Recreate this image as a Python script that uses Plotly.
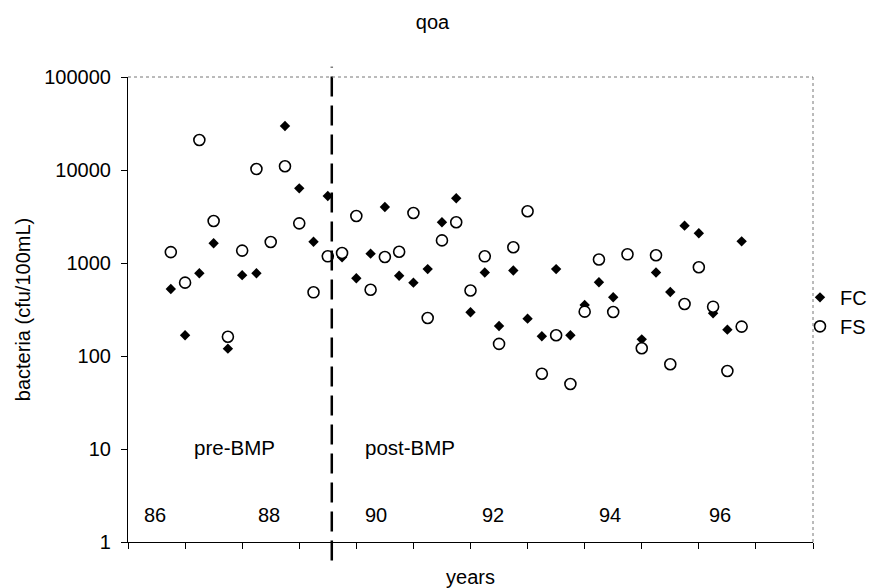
import math
import plotly.graph_objects as go

# sample dates (decimal years, quarterly)
years = [86.75, 87.0, 87.25, 87.5, 87.75, 88.0, 88.25, 88.5, 88.75, 89.0,
         89.25, 89.5, 89.75, 90.0, 90.25, 90.5, 90.75, 91.0, 91.25, 91.5,
         91.75, 92.0, 92.25, 92.5, 92.75, 93.0, 93.25, 93.5, 93.75, 94.0,
         94.25, 94.5, 94.75, 95.0, 95.25, 95.5, 95.75, 96.0, 96.25, 96.5, 96.75]

fc = [525, 167, 775, 1630, 120, 740, 775, 1660, 29700, 6350,
      1690, 5250, 1150, 685, 1260, 4000, 730, 615, 860, 2740,
      4960, 295, 790, 210, 830, 252, 163, 860, 167, 354,
      620, 428, None, 151, 790, 488, 2520, 2090, 288, 192, 1710]

fs = [1310, 615, 21000, 2830, 161, 1360, 10250, 1680, 10960, 2670,
      484, 1180, 1280, 3200, 516, 1160, 1320, 3450, 256, 1750,
      2740, 506, 1180, 135, 1475, 3600, 64.5, 167, 50, 300,
      1090, 297, 1240, 121, 1210, 81.5, 362, 900, 339, 69, 207]

year_labels = ["86", "88", "90", "92", "94", "96"]
year_label_x = [86.47, 88.47, 90.34, 92.39, 94.44, 96.37]
year_label_y = 1.95

bmp_year = 89.57
period_labels = ["pre-BMP", "post-BMP"]
period_label_x = [87.87, 90.94]
period_label_y = 10.5

y_ticks = [1, 10, 100, 1000, 10000, 100000]

FONT = "Arial, Liberation Sans, sans-serif"

fig = go.Figure()
fig.add_trace(go.Scatter(
    x=years, y=fc, mode="markers", name="FC",
    marker=dict(symbol="diamond", size=8, color="black",
                line=dict(width=0)),
))
fig.add_trace(go.Scatter(
    x=years, y=fs, mode="markers", name="FS",
    marker=dict(symbol="circle", size=11, color="white",
                line=dict(width=1.6, color="black")),
))

for t, xv in zip(year_labels, year_label_x):
    fig.add_annotation(x=xv, y=math.log10(year_label_y), text=t, showarrow=False,
                       font=dict(size=20, color="black", family=FONT))

for t, xv in zip(period_labels, period_label_x):
    fig.add_annotation(x=xv, y=math.log10(period_label_y),
                       text=t, showarrow=False,
                       font=dict(size=20.5, color="black", family=FONT))

# BMP divider
fig.add_shape(type="line", xref="x", yref="paper", x0=bmp_year, x1=bmp_year,
              y0=-0.04, y1=1.022,
              line=dict(color="black", width=2.5, dash="20px,9px"))
# dotted top/right frame
fig.add_shape(type="line", xref="paper", yref="paper", x0=0, x1=1, y0=1, y1=1,
              line=dict(color="#777777", width=1, dash="dot"))
fig.add_shape(type="line", xref="paper", yref="paper", x0=1, x1=1, y0=0, y1=1,
              line=dict(color="#777777", width=1, dash="dot"))

fig.update_layout(
    width=870, height=580,
    margin=dict(l=120, r=65, t=69, b=46, autoexpand=False),
    paper_bgcolor="white", plot_bgcolor="white",
    font=dict(family=FONT, size=20, color="black"),
    title=dict(text="qoa", x=0.488, xref="container", xanchor="center",
               y=0.976, yref="container", yanchor="middle",
               font=dict(size=20, family=FONT, color="black")),
    showlegend=True,
    legend=dict(x=0.981, xanchor="left", y=0.495, yanchor="middle",
                font=dict(size=20, family=FONT, color="black"),
                bgcolor="rgba(0,0,0,0)", itemwidth=30, tracegroupgap=0),
)

fig.update_xaxes(
    range=[86, 98], dtick=1, tick0=86, showticklabels=False,
    ticks="outside", ticklen=6, tickcolor="black", tickwidth=1,
    showline=True, linecolor="black", linewidth=1.2,
    showgrid=False, zeroline=False, automargin=False,
    title=dict(text="years", standoff=27, font=dict(size=20, family=FONT)),
)
fig.update_yaxes(
    type="log", range=[0, 5], tickvals=y_ticks,
    ticktext=[str(v) for v in y_ticks],
    ticks="outside", ticklen=6, tickcolor="black", tickwidth=1,
    ticklabelstandoff=6,
    showline=True, linecolor="black", linewidth=1.2,
    showgrid=False, zeroline=False, automargin=False,
    title=dict(text="bacteria (cfu/100mL)", standoff=8,
               font=dict(size=20, family=FONT)),
)

fig.write_html("out.html")
